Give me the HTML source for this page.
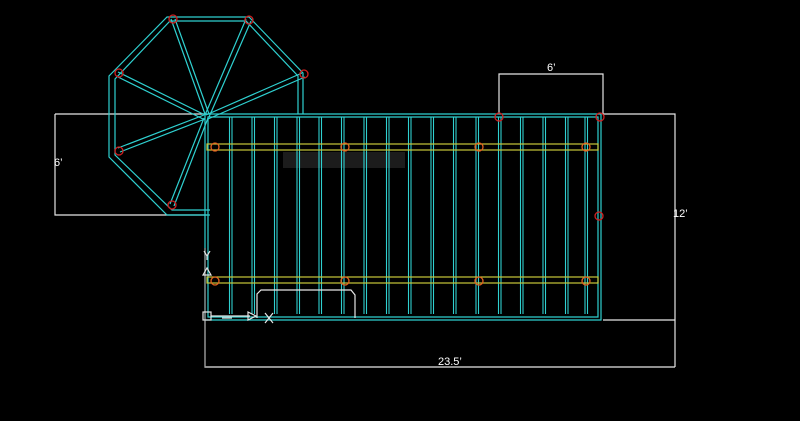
<!DOCTYPE html>
<html><head><meta charset="utf-8"><style>
html,body{margin:0;padding:0;background:#000;width:800px;height:421px;overflow:hidden}
svg{display:block}
text{font-family:"Liberation Sans",sans-serif;fill:#fff;font-size:11px}
</style></head><body>
<svg width="800" height="421" viewBox="0 0 800 421" xmlns="http://www.w3.org/2000/svg">
<rect width="800" height="421" fill="#000"/>
<rect x="283" y="152" width="122" height="16" fill="#1c1c1c"/>
<g stroke="#e6e6e6" stroke-width="1.2" fill="none">
<path d="M55 114H207M55 114V215H207"/>
<path d="M499 114V74H603V114"/>
<path d="M603 114H675V367M603 320H675"/>
<path d="M205 321V367H675"/>
</g>
<text x="54" y="166">6’</text>
<text x="547" y="71">6’</text>
<text x="673" y="217">12’</text>
<text x="438" y="365">23.5’</text>
<g stroke="#2fd0d0" stroke-width="1.2" fill="none">
<path d="M303 114V73L249 17H167L109 76V157L167 215H210"/>
<path d="M298 114V76L246 21H170L115 79V155L172 210H210"/>
<path d="M205 114L171 19M209 114L175 19"/>
<path d="M205 115L246 19M209 117L251 21"/>
<path d="M206 115L302 73M208 119L305 77"/>
<path d="M205 115L118 72M203 119L118 77"/>
<path d="M204 115L118 148M205 119L120 152"/>
<path d="M204 118L170 204M208 118L174 206"/>
<path d="M205 114H601V320H205Z"/>
<path d="M208 117H598V317H208Z"/>
</g>
<g stroke="#2fd0d0" stroke-width="1.1" fill="none">
<path d="M229.5 117V314M232 117V314M252 117V314M254.5 117V314M274.5 117V314M277 117V314M297 117V314M299.5 117V314M319 117V314M321.5 117V314M341.5 117V314M344 117V314M364 117V314M366.5 117V314M386.5 117V314M389 117V314M408.5 117V314M411 117V314M431 117V314M433.5 117V314M453.5 117V314M456 117V314M476 117V314M478.5 117V314M498.5 117V314M501 117V314M520.5 117V314M523 117V314M543 117V314M545.5 117V314M565.5 117V314M568 117V314M585 117V314M587.5 117V314"/>
</g>
<g stroke="#c8c83a" stroke-width="1.2" fill="none">
<rect x="207" y="144" width="391" height="6"/>
<rect x="207" y="277" width="391" height="6"/>
</g>
<g stroke="#d02020" stroke-width="1.3" fill="none">
<circle cx="173" cy="19" r="4"/><circle cx="249" cy="20" r="4"/>
<circle cx="304" cy="74" r="4"/><circle cx="119" cy="73" r="4"/>
<circle cx="119" cy="151" r="4"/><circle cx="172" cy="205" r="4"/>
<circle cx="499" cy="117" r="4"/><circle cx="600" cy="117" r="4"/>
<circle cx="599" cy="216" r="4"/>
</g>
<g stroke="#e06020" stroke-width="1.3" fill="none">
<circle cx="215" cy="147" r="4"/><circle cx="345" cy="147" r="4"/>
<circle cx="479" cy="147" r="4"/><circle cx="586" cy="147" r="4"/>
<circle cx="215" cy="281" r="4"/><circle cx="345" cy="281" r="4"/>
<circle cx="479" cy="281" r="4"/><circle cx="586" cy="281" r="4"/>
</g>
<path d="M257 318V294L261 290H351L355 295V318" stroke="#e6e6e6" stroke-width="1.2" fill="none"/>
<g stroke="#e6e6e6" stroke-width="1.2" fill="none">
<path d="M205 248V367" stroke="#999"/>
<rect x="203" y="312" width="8" height="8"/>
<path d="M211 316H250M222 318H232"/>
<path d="M248 312L256 316L248 320Z"/>
<path d="M203 275L207 268L211 275Z"/>
<path d="M265 313L273 323M273 313L265 323"/>
<path d="M204 251L207 256L210 251M207 256V260"/>
</g>
</svg>
</body></html>
